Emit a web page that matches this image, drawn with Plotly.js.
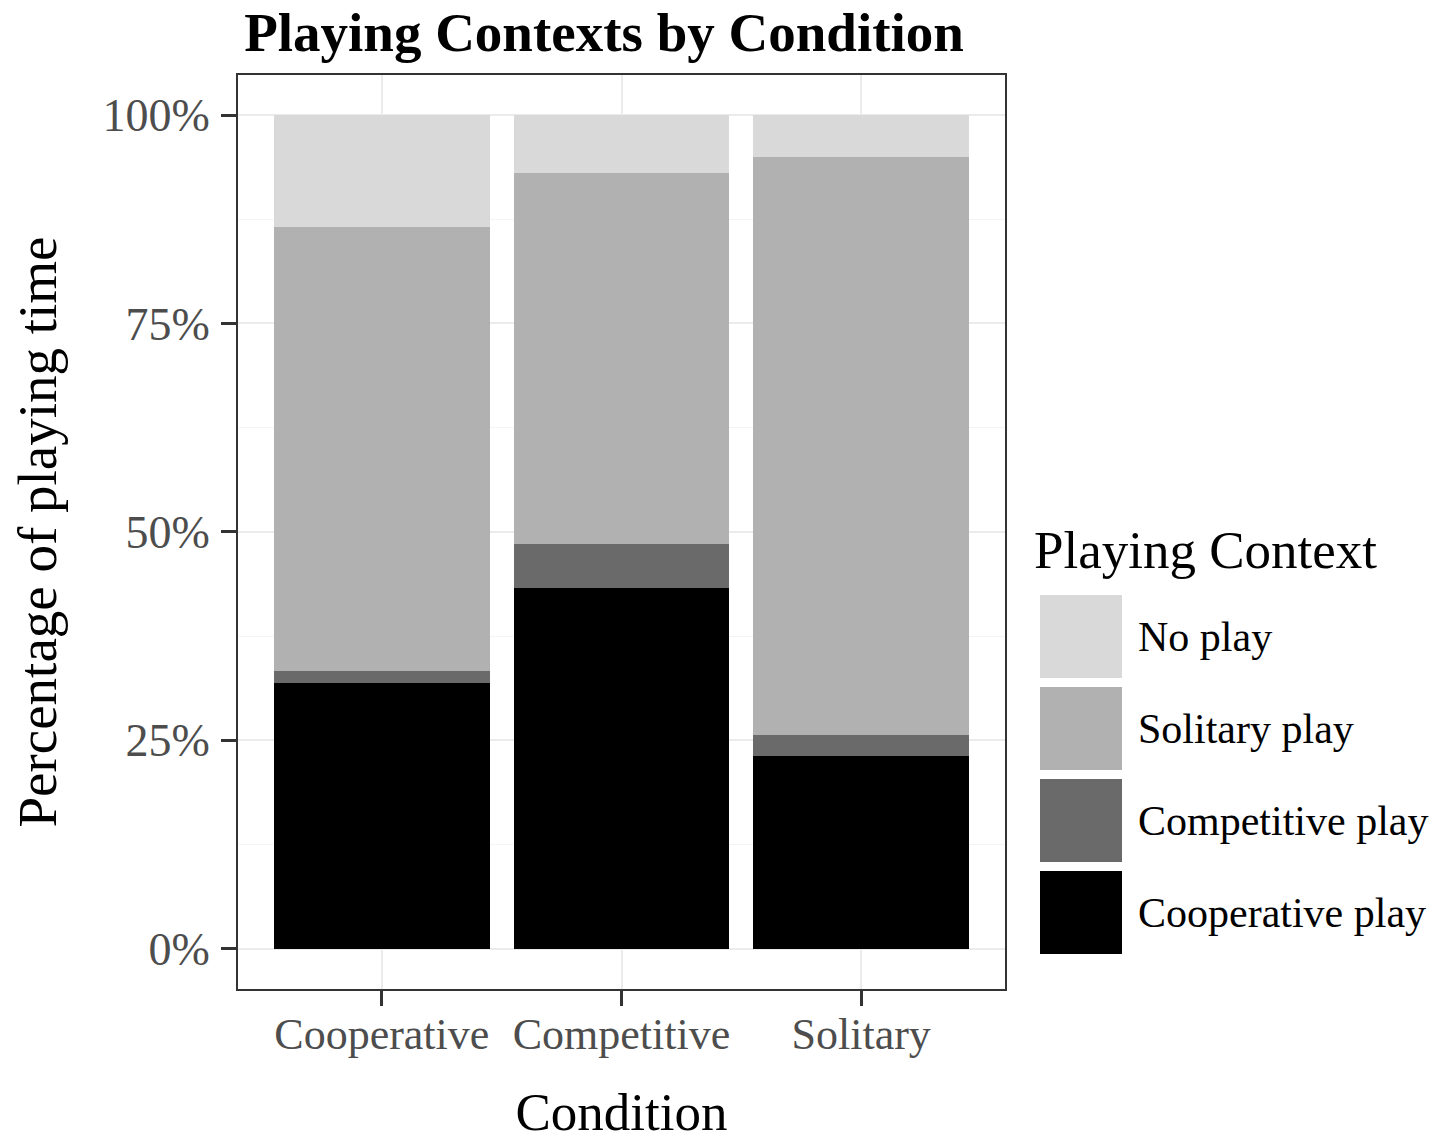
<!DOCTYPE html>
<html>
<head>
<meta charset="utf-8">
<script src="https://cdn.plot.ly/plotly-3.0.1.min.js"></script>
<style>html,body{margin:0;padding:0;background:#fff;}#chart{width:1449px;height:1141px;}</style>
</head>
<body>
<div id="chart"></div>
<script>
// ---- data ----
const conditions = ["Cooperative", "Competitive", "Solitary"];
const seriesNames = ["Cooperative play", "Competitive play", "Solitary play", "No play"];
const cooperativePlay = [31.9, 43.3, 23.15];
const competitivePlay = [1.4, 5.3, 2.45];
const solitaryPlay = [53.3, 44.4, 69.4];
const noPlay = [13.4, 7.0, 5.0];
const seriesColors = ["#000000", "#6a6a6a", "#b1b1b1", "#d9d9d9"];
const yTickVals = [0, 25, 50, 75, 100];
const yTickText = ["0%", "25%", "50%", "75%", "100%"];
const legendOrder = ["No play", "Solitary play", "Competitive play", "Cooperative play"];

const seriesValues = [cooperativePlay, competitivePlay, solitaryPlay, noPlay];
const FONT = "Liberation Serif, Times New Roman, serif";

const traces = seriesNames.map((n, i) => ({
  type: "bar",
  name: n,
  x: conditions,
  y: seriesValues[i],
  marker: {color: seriesColors[i], line: {width: 0}},
  width: 0.9,
  showlegend: false,
  hoverinfo: "x+y+name"
}));

// plot area geometry (px)
const L = 238, R = 1005, T = 75, B = 989;
const W = 1449, H = 1141;
const pw = R - L, ph = B - T;
const px2x = p => (p - L) / pw;
const py2y = p => (B - p) / ph;

const shapes = [];
const annotations = [];
// custom legend with large keys
const keyX0 = 1040, keyX1 = 1122, keyTop0 = 595, keyH = 83, keyStep = 92;
legendOrder.forEach((n, k) => {
  const idx = seriesNames.indexOf(n);
  const top = keyTop0 + k * keyStep;
  shapes.push({type: "rect", xref: "paper", yref: "paper",
    x0: px2x(keyX0), x1: px2x(keyX1), y0: py2y(top + keyH), y1: py2y(top),
    fillcolor: seriesColors[idx], line: {width: 0}});
  annotations.push({xref: "paper", yref: "paper", x: px2x(1136), y: py2y(top + keyH / 2),
    xanchor: "left", yanchor: "middle", showarrow: false, text: n,
    font: {family: FONT, size: 42, color: "#000"}});
});
annotations.push({xref: "paper", yref: "paper", x: px2x(1032), y: py2y(550),
  xanchor: "left", yanchor: "middle", showarrow: false, text: "Playing Context",
  font: {family: FONT, size: 53, color: "#000"}});

const layout = {
  width: W, height: H,
  margin: {l: L, r: W - R, t: T, b: H - B, pad: 0},
  paper_bgcolor: "#fff", plot_bgcolor: "#fff",
  barmode: "stack",
  bargap: 0.1,
  showlegend: false,
  title: {text: "<b>Playing Contexts by Condition</b>", x: 604 / W, xanchor: "center",
    y: 1 - 32 / H, yanchor: "middle", font: {family: FONT, size: 55, color: "#000"}},
  xaxis: {
    type: "category", range: [-0.6, 2.6],
    showgrid: true, gridcolor: "#ebebeb", gridwidth: 2,
    ticks: "outside", ticklen: 15, tickwidth: 3, tickcolor: "#333",
    ticklabelstandoff: -10,
    tickfont: {family: FONT, size: 44, color: "#4d4d4d"},
    showline: true, linecolor: "#333", linewidth: 2, mirror: true,
    zeroline: false,
    title: {text: "Condition", font: {family: FONT, size: 53, color: "#000"}, standoff: 40}
  },
  yaxis: {
    range: [-4.83, 104.8],
    tickvals: yTickVals, ticktext: yTickText,
    showgrid: true, gridcolor: "#ebebeb", gridwidth: 2,
    minor: {dtick: 12.5, tick0: 0, showgrid: true, gridcolor: "#f4f4f4", gridwidth: 1, ticklen: 0},
    ticks: "outside", ticklen: 15, tickwidth: 3, tickcolor: "#333",
    ticklabelstandoff: 2,
    tickfont: {family: FONT, size: 46, color: "#4d4d4d"},
    showline: true, linecolor: "#333", linewidth: 2, mirror: true,
    zeroline: false,
    title: {text: "Percentage of playing time", font: {family: FONT, size: 55, color: "#000"}, standoff: 28}
  },
  shapes: shapes,
  annotations: annotations
};

Plotly.newPlot("chart", traces, layout, {displayModeBar: false, staticPlot: true});
</script>
</body>
</html>
